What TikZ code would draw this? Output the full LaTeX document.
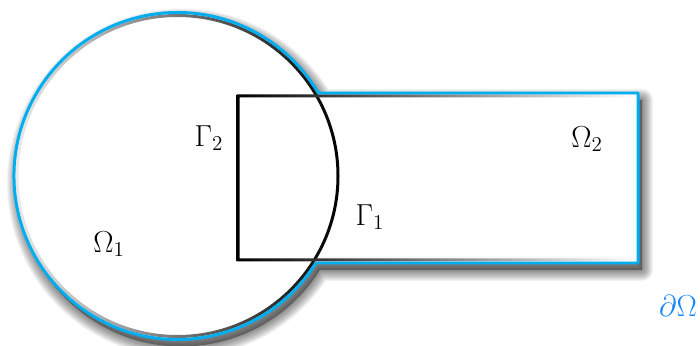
\documentclass[tikz,border=0pt]{standalone}
\usepackage{tikz}
\definecolor{bnd}{RGB}{0,174,239}
\definecolor{dom}{RGB}{25,135,250}
\newcommand\unionshape[1]{\path[#1] (318.4,252) -- (638,252) -- (638,82) -- (315.9,82) arc[start angle=-32.15, end angle=-329.49, radius=163.5] -- cycle;}
\begin{document}
\begin{tikzpicture}[x=0.02cm,y=0.02cm,
  lab/.style={inner sep=0pt, font=\fontsize{17}{20}\selectfont}]
\useasboundingbox (0,0) rectangle (700,345);
% drop shadow of the whole domain
\begin{scope}[shift={(4,-7)}]
  \foreach \w in {1,...,14} {\unionshape{draw=black, draw opacity=0.04, line width=\w*0.9pt, line join=round}}
  \unionshape{fill=black, fill opacity=0.35}
\end{scope}
\unionshape{fill=white}
% circle (Omega_1 boundary), shaded stroke
\shade[left color=black!8, right color=black, even odd rule]
  (177.5,169) circle[radius=162] (177.5,169) circle[radius=159];
% rectangle (Omega_2 boundary), shaded stroke
\shade[left color=black, right color=white, even odd rule]
  (236.5,83.5) rectangle (636.5,250.5) (239.5,86.5) rectangle (633.5,247.5);
% outer boundary
\unionshape{draw=bnd, line width=1.7pt, line join=round}
% labels
\node[lab] (g2) at (209,207) {$\Gamma_2$};
\node[lab] (o1) at (109,101) {$\Omega_1$};
\node[lab] (g1) at (370,128) {$\Gamma_1$};
\node[lab] (o2) at (587,206) {$\Omega_2$};
\node[lab, text=dom] (bo) at (678,39) {$\partial\Omega$};
\end{tikzpicture}
\end{document}
